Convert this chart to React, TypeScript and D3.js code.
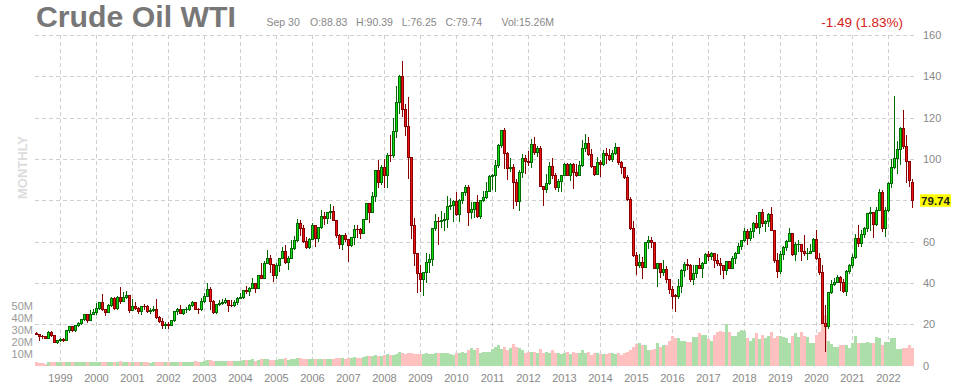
import React from 'react';
import * as d3 from 'd3';

// Monthly candles, May 1998 .. Sep 2022
const startYear = 1998;
const startMonth = 4; // May (0-based)

const opens = [
  15.40,15.20,14.20,14.10,13.30,16.10,14.40,11.20,
  12.10,12.80,12.30,16.80,18.70,16.80,19.30,20.50,22.10,24.50,21.80,24.60,
  25.60,27.60,30.40,26.90,25.70,29.00,32.50,27.40,33.10,30.80,32.70,33.80,
  26.80,28.70,27.40,26.30,28.50,28.40,26.30,26.40,26.90,23.40,21.20,19.40,
  19.80,19.50,21.70,26.30,27.30,25.30,26.90,27.00,29.00,30.50,27.20,26.90,
  31.20,33.50,36.60,31.00,25.80,29.60,30.20,30.50,31.60,29.20,29.10,30.40,
  32.50,33.10,36.20,35.80,37.40,39.90,37.10,43.80,42.10,49.60,51.80,49.10,
  43.50,48.20,51.80,55.40,49.70,52.00,56.50,60.60,68.90,66.20,59.80,57.30,
  61.00,67.90,61.40,66.60,71.90,71.30,73.90,74.40,70.30,62.90,58.70,63.10,
  61.10,58.10,61.80,65.90,65.70,64.00,70.70,78.20,74.00,81.70,94.50,88.70,
  96.00,91.80,101.80,101.60,113.50,127.40,140.00,124.10,115.50,100.60,67.80,54.40,
  44.60,41.70,44.80,49.70,51.10,66.30,69.90,69.50,70.00,70.60,77.00,77.30,
  79.40,72.90,79.70,83.80,86.20,74.00,75.60,79.00,71.90,80.00,81.40,84.10,
  91.40,92.20,97.00,106.70,113.90,102.70,95.40,95.70,88.80,79.20,93.20,100.40,
  98.80,98.50,107.10,103.00,104.90,86.50,85.00,88.10,96.50,92.20,86.20,88.90,
  91.80,97.50,92.10,97.20,93.50,92.00,96.60,105.00,107.70,102.30,96.40,92.70,
  98.40,97.50,102.60,101.60,99.70,102.70,105.40,98.20,96.00,91.20,80.50,66.20,
  53.30,48.20,49.80,47.60,59.60,60.30,59.50,47.10,49.20,45.10,46.60,41.70,
  37.00,33.70,33.60,38.30,45.90,49.10,48.30,41.60,44.70,48.20,46.90,49.40,
  53.70,52.80,54.00,50.60,49.30,48.30,46.00,50.20,47.20,51.70,54.40,57.40,
  60.40,64.70,61.60,64.90,68.60,67.00,74.20,68.80,69.80,73.30,65.30,50.90,
  45.40,53.80,57.20,60.10,63.90,53.50,58.50,58.60,55.10,54.10,54.20,55.20,
  61.10,51.60,44.80,20.50,18.80,35.50,39.30,40.30,42.60,40.20,35.80,45.30,
  48.50,52.20,61.50,59.20,63.60,66.30,73.50,74.00,68.50,75.00,83.60,66.20,
  75.20,88.20,95.70,100.30,104.70,114.70,105.80,98.60,88.83,
];

const highs = [
  16.20,15.40,14.90,14.40,16.80,16.90,14.80,12.40,
  13.40,13.10,16.90,18.80,19.00,19.60,21.00,22.30,25.00,24.90,27.10,27.50,
  30.20,30.60,34.40,27.40,30.00,33.10,33.00,33.50,37.80,35.70,36.00,34.00,
  32.20,30.80,28.40,28.70,29.90,29.50,27.60,28.80,32.40,23.80,22.80,21.00,
  21.10,21.90,26.50,27.90,29.40,27.10,28.20,29.90,31.20,30.90,27.60,32.70,
  35.00,39.99,38.00,31.50,29.80,31.50,32.10,32.90,31.80,31.90,31.60,33.00,
  35.30,36.60,38.40,38.00,42.30,40.00,44.00,49.40,50.50,55.70,53.30,49.30,
  49.80,52.10,57.60,58.30,52.90,60.90,62.50,70.90,70.50,67.90,62.10,61.80,
  69.20,68.00,67.20,75.40,74.40,74.00,78.40,77.10,70.40,63.90,62.80,64.20,
  61.30,62.30,68.10,67.90,66.60,70.90,78.80,78.80,83.90,94.70,99.30,97.00,
  100.10,103.00,111.80,119.90,135.10,140.40,147.30,126.80,130.00,100.80,71.20,54.60,
  48.60,45.00,54.70,54.00,66.60,73.40,72.00,75.00,74.00,82.00,81.20,79.90,
  83.90,80.50,83.90,87.20,87.20,79.30,79.20,82.50,80.00,84.40,88.60,92.00,
  92.60,99.70,107.00,114.00,114.80,103.40,100.60,97.40,90.50,94.70,102.40,101.80,
  103.70,109.80,110.60,106.20,106.40,86.60,92.90,98.30,100.40,93.00,90.30,91.90,
  98.20,98.20,97.80,97.80,97.40,99.00,109.30,112.20,110.70,104.80,96.60,100.80,
  99.40,104.40,105.20,104.90,104.50,107.70,106.00,98.80,96.10,92.10,81.60,69.90,
  55.10,54.20,52.50,59.90,62.60,62.00,59.70,49.30,49.50,50.90,48.40,42.00,
  38.40,34.80,41.90,46.80,50.20,51.70,49.00,48.80,48.40,51.90,49.90,54.50,
  55.20,54.90,54.40,53.80,52.00,48.80,50.40,50.20,52.90,54.90,59.10,60.50,
  66.70,66.00,66.60,69.60,72.90,74.50,76.00,70.40,73.80,76.90,65.60,54.50,
  55.40,57.80,60.70,66.60,64.10,59.90,60.90,58.80,63.40,56.90,58.70,61.90,
  65.60,54.70,48.70,29.10,35.60,41.60,42.50,43.80,43.40,41.90,46.30,49.30,
  53.90,63.80,67.90,65.50,67.00,74.00,76.90,74.30,76.70,85.40,84.90,76.90,
  88.80,100.00,130.50,108.80,115.30,123.70,111.50,98.80,90.39,
];

const lows = [
  14.60,11.80,12.90,12.80,12.90,13.90,10.80,10.40,
  11.60,11.40,12.00,15.60,16.00,16.30,18.80,19.70,21.70,20.80,21.60,24.40,
  24.30,27.00,26.60,23.80,25.20,28.30,27.00,27.10,30.00,30.50,32.10,25.20,
  26.50,26.90,24.80,24.60,26.90,25.30,24.90,26.00,22.70,20.60,17.50,17.80,
  17.90,19.10,21.20,24.60,24.70,24.30,25.60,26.40,28.50,26.70,25.00,26.20,
  30.10,33.00,26.90,24.80,25.10,28.80,29.40,30.00,25.80,28.10,28.40,29.50,
  32.10,32.20,34.60,33.50,37.00,35.20,36.90,42.00,41.80,49.30,45.00,40.30,
  42.10,45.30,51.50,49.20,46.20,51.50,56.00,60.00,62.60,59.30,56.20,56.40,
  60.60,57.60,59.60,66.00,68.00,68.30,71.00,70.00,61.60,56.60,55.90,60.00,
  49.90,57.20,58.10,61.90,61.30,63.70,70.30,69.00,73.90,79.00,86.00,87.40,
  86.10,86.10,98.70,100.50,109.90,121.60,120.40,111.30,90.50,61.30,48.30,35.00,
  35.50,33.60,40.00,45.00,48.30,64.90,58.30,66.80,65.00,66.50,75.30,69.50,
  72.40,69.50,78.30,82.20,67.50,70.80,71.50,71.20,70.80,79.00,80.50,84.00,
  85.10,83.90,95.80,105.50,95.00,89.60,93.60,75.70,77.10,74.90,91.00,92.50,
  96.80,95.40,102.10,101.00,86.20,77.30,83.60,87.20,90.40,84.80,84.10,84.10,
  91.70,92.00,89.30,85.60,91.40,91.50,95.90,103.20,101.50,95.80,91.80,92.50,
  91.20,96.70,97.40,98.90,98.50,101.70,97.20,92.50,90.50,79.80,65.70,52.70,
  43.60,47.40,42.00,47.10,56.50,57.00,47.10,37.80,42.60,43.10,39.90,34.50,
  27.50,26.10,32.40,35.20,43.00,46.00,40.60,39.20,42.50,46.80,42.20,49.20,
  50.70,51.20,47.10,48.20,43.80,42.10,44.00,46.50,46.90,49.10,53.90,55.80,
  59.80,58.10,60.10,61.80,66.00,63.60,67.00,64.40,67.10,64.90,49.40,42.40,
  44.40,51.20,55.40,60.00,53.00,50.60,55.00,50.50,52.80,50.90,54.00,55.10,
  51.10,44.00,20.00,6.50,17.50,34.40,38.70,40.20,36.10,34.90,33.60,44.10,
  47.20,51.60,57.30,57.60,61.60,64.80,65.00,61.70,67.60,74.90,64.40,62.40,
  74.30,85.70,95.10,92.90,97.20,104.60,88.20,86.30,76.25,
];

const closes = [
  15.20,14.20,14.10,13.30,16.10,14.40,11.20,12.10,
  12.80,12.30,16.80,18.70,16.80,19.30,20.50,22.10,24.50,21.80,24.60,25.60,
  27.60,30.40,26.90,25.70,29.00,32.50,27.40,33.10,30.80,32.70,33.80,26.80,
  28.70,27.40,26.30,28.50,28.40,26.30,26.40,26.90,23.40,21.20,19.40,19.80,
  19.50,21.70,26.30,27.30,25.30,26.90,27.00,29.00,30.50,27.20,26.90,31.20,
  33.50,36.60,31.00,25.80,29.60,30.20,30.50,31.60,29.20,29.10,30.40,32.50,
  33.10,36.20,35.80,37.40,39.90,37.10,43.80,42.10,49.60,51.80,49.10,43.50,
  48.20,51.80,55.40,49.70,52.00,56.50,60.60,68.90,66.20,59.80,57.30,61.00,
  67.90,61.40,66.60,71.90,71.30,73.90,74.40,70.30,62.90,58.70,63.10,61.10,
  58.10,61.80,65.90,65.70,64.00,70.70,78.20,74.00,81.70,94.50,88.70,96.00,
  91.80,101.80,101.60,113.50,127.40,140.00,124.10,115.50,100.60,67.80,54.40,44.60,
  41.70,44.80,49.70,51.10,66.30,69.90,69.50,70.00,70.60,77.00,77.30,79.40,
  72.90,79.70,83.80,86.20,74.00,75.60,79.00,71.90,80.00,81.40,84.10,91.40,
  92.20,97.00,106.70,113.90,102.70,95.40,95.70,88.80,79.20,93.20,100.40,98.80,
  98.50,107.10,103.00,104.90,86.50,85.00,88.10,96.50,92.20,86.20,88.90,91.80,
  97.50,92.10,97.20,93.50,92.00,96.60,105.00,107.70,102.30,96.40,92.70,98.40,
  97.50,102.60,101.60,99.70,102.70,105.40,98.20,96.00,91.20,80.50,66.20,53.30,
  48.20,49.80,47.60,59.60,60.30,59.50,47.10,49.20,45.10,46.60,41.70,37.00,
  33.60,33.60,38.30,45.90,49.10,48.30,41.60,44.70,48.20,46.90,49.40,53.70,
  52.80,54.00,50.60,49.30,48.30,46.00,50.20,47.20,51.70,54.40,57.40,60.40,
  64.70,61.60,64.90,68.60,67.00,74.20,68.80,69.80,73.30,65.30,50.90,45.40,
  53.80,57.20,60.10,63.90,53.50,58.50,58.60,55.10,54.10,54.20,55.20,61.10,
  51.60,44.80,20.50,18.80,35.50,39.30,40.30,42.60,40.20,35.80,45.30,48.50,
  52.20,61.50,59.20,63.60,66.30,73.50,74.00,68.50,75.00,83.60,66.20,75.20,
  88.20,95.70,100.30,104.70,114.70,105.80,98.60,89.60,79.74,
];

// volume in millions
const volumes = [
  3,2.5,2.5,2,3,3,3,3.5,
  3,3,3.5,3,3,3,3,3.5,3,3,3.5,3,
  3,3.5,3.5,3,3,3.5,3,3.5,4,3.5,3,3,
  3,3,3,3,3,3,2.5,3,3.5,3,3,3,
  3.5,3,3.5,3.5,3,3,3.5,3,3.5,4,3.5,3.5,
  4,5,5,4.5,4,4,4,4,4.5,4,4,4.5,
  4.5,5,5,5,5.5,4.5,5,6,5.5,6,5,5,
  5,5.5,6,6.5,5,6,5.5,7,6.5,6,5.5,6,
  6,6,6,5.5,5.5,5.5,6,6,7,6.5,6.5,6,
  7,7,7.5,7,7,7.5,8,8,8,9,8.5,8,
  9,10,9,9.5,10,12,11,10,11,11,10,10,
  10,10,10.5,10,10,11,11,10.5,11,11,10,9.5,
  11,11,11.5,11,13,15,13,15,11,12,12,12,
  14,16,17,14,16,13,15,18,16,15,13,11,
  12,12,12,11,14,11,12,11,13,11,11,10,
  11,12,10,12,11,11,13,11,12,9,11,11,
  10,10,10,11,11,10,11,9,11,12,13,16,
  18,19,17,17,13,13,14,19,16,17,17,21,
  25,23,23,21,21,20,20,24,24,27,26,26,
  22,21,26,28,29,28,35,28,25,25,28,30,
  29,23,21,23,27,22,26,23,25,28,23,25,
  25,24,23,19,25,27,24,28,25,24,19,19,
  26,28,36,42,21,18,16,16,17,17,17,15,
  19,25,19,19,19,20,19,19,24,23,17,20,
  20,23,23,14,14,15,15,17,15.26,
];

const yearLabels = ['1999','2000','2001','2002','2003','2004','2005','2006','2007','2008','2009','2010','2011','2012','2013','2014','2015','2016','2017','2018','2019','2020','2021','2022'];
const priceTicks = [0, 20, 40, 60, 80, 100, 120, 140, 160];
const volumeTicks = [10, 20, 30, 40, 50];

const title = 'Crude Oil WTI';
const dateLabel = 'Sep 30';
const ohlcLabel = 'O:88.83   H:90.39   L:76.25   C:79.74';
const volLabel = 'Vol:15.26M';
const changeLabel = '-1.49 (1.83%)';
const lastLabel = '79.74';

const FONT = '"Liberation Sans", Arial, Helvetica, sans-serif';

export default function App() {
  const n = closes.length;
  const x = d3.scaleLinear().domain([0, n - 1]).range([36.5, 36.5 + 3 * (n - 1)]);
  const y = d3.scaleLinear().domain([0, 160]).range([365.5, 35]);
  const yv = d3.scaleLinear().domain([0, 50]).range([366, 305.7]);

  const crisp = (v: number) => Math.round(v) + 0.5;
  const lastClose = closes[n - 1];
  const yLast = y(lastClose);

  const yearIdx = yearLabels.map((yl) => (parseInt(yl) - startYear) * 12 - startMonth);

  return (
    <svg
      width={960}
      height={391}
      style={{ position: 'absolute', left: 0, top: 0, background: '#fff' }}
      fontFamily={FONT}
    >
      {/* header */}
      <text x={36} y={26.5} fontSize={29} fontWeight="bold" fill="#777" textLength={200} lengthAdjust="spacingAndGlyphs">{title}</text>
      <text x={266.5} y={26} fontSize={10.5} fill="#888">{dateLabel}</text>
      <text x={310} y={26} fontSize={10.5} fill="#888" style={{ whiteSpace: 'pre' }}>{ohlcLabel}</text>
      <text x={501.5} y={26} fontSize={10.5} fill="#888">{volLabel}</text>
      <text x={903} y={27} fontSize={13.5} fill="#d42020" textAnchor="end">{changeLabel}</text>

      {/* MONTHLY */}
      <text transform="translate(27,167.5) rotate(-90)" fontSize={13} fontWeight="bold" fill="#dcdcdc" textAnchor="middle">MONTHLY</text>

      {/* horizontal grid */}
      {priceTicks.filter((t) => t > 0).map((t) => (
        <line key={'hg' + t} x1={35} x2={915} y1={crisp(y(t))} y2={crisp(y(t))} stroke="#cfcfcf" strokeDasharray="4,3" />
      ))}
      {/* vertical grid */}
      {yearIdx.map((i, k) => (
        <line key={'vg' + k} x1={x(i)} x2={x(i)} y1={35} y2={366} stroke="#cfcfcf" strokeDasharray="4,3" />
      ))}

      {/* volume */}
      {volumes.map((v, i) => (
        <rect
          key={'v' + i}
          x={x(i) - 1.5}
          y={yv(v)}
          width={3}
          height={yv(0) - yv(v)}
          fill={closes[i] >= opens[i] ? '#abdea9' : '#ffc0c0'}
          shapeRendering="crispEdges"
        />
      ))}

      {/* candles */}
      {closes.map((c, i) => {
        const o = opens[i];
        const up = c >= o;
        const cx = x(i);
        const top = Math.min(y(o), y(c));
        const h = Math.abs(y(o) - y(c));
        const edge = up ? '#006a00' : '#8a0000';
        return (
          <g key={'c' + i} shapeRendering="crispEdges">
            <line x1={cx} x2={cx} y1={y(highs[i])} y2={y(lows[i])} stroke={edge} strokeWidth={1} />
            <rect x={cx - 1} y={top} width={2} height={Math.max(h, 0.01)} fill={up ? '#11dd11' : '#ee1111'} stroke={edge} strokeWidth={1} />
          </g>
        );
      })}

      {/* right axis labels */}
      {priceTicks.filter((t) => Math.abs(y(t) - yLast) > 10).map((t) => (
        <text key={'pt' + t} x={923} y={y(t) + 4} fontSize={11} fill="#888">{t}</text>
      ))}
      <rect x={920} y={yLast - 6.5} width={31} height={12.5} fill="#ffff00" />
      <text x={935.5} y={yLast + 4} fontSize={11.5} fontWeight="bold" fill="#222" textAnchor="middle">{lastLabel}</text>

      {/* volume labels */}
      {volumeTicks.map((t) => (
        <text key={'vt' + t} x={33} y={yv(t) + 4} fontSize={11} fill="#999" textAnchor="end">{t + 'M'}</text>
      ))}

      {/* year labels */}
      {yearLabels.map((yl, k) => (
        <text key={'yl' + k} x={x(yearIdx[k])} y={382} fontSize={11} fill="#888" textAnchor="middle">{yl}</text>
      ))}
    </svg>
  );
}
